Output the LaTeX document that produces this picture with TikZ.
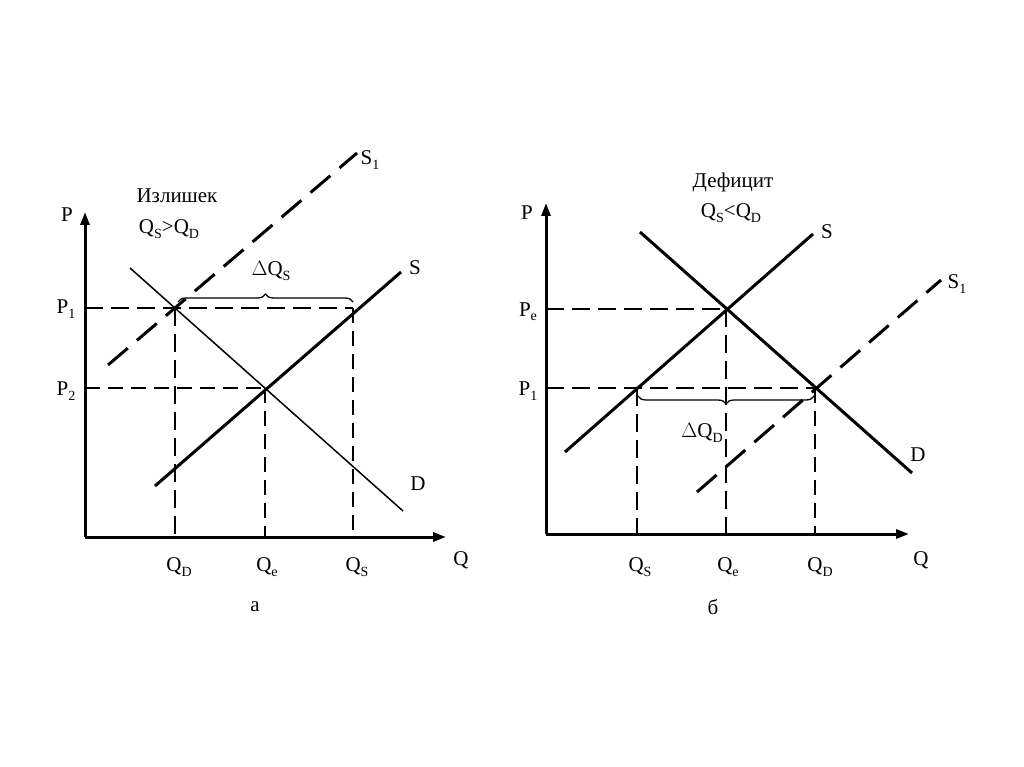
\documentclass[tikz,border=0pt]{standalone}
\usepackage{fontspec}
\setmainfont{Liberation Serif}
\usetikzlibrary{arrows.meta,decorations.pathreplacing}
\newcommand{\lowsub}[1]{\raisebox{-0.45ex}{\fontsize{14}{14}\selectfont #1}}
\begin{document}
\begin{tikzpicture}[x=1pt,y=-1pt,
  axis/.style={line width=3pt,-{Triangle[length=13pt,width=9pt]}},
  curvethick/.style={line width=3pt},
  curvethin/.style={line width=1.5pt},
  shiftline/.style={line width=3pt,dash pattern=on 26pt off 12pt},
  guidethick/.style={line width=2.8pt,dash pattern=on 18pt off 8pt},
  guidethin/.style={line width=1.8pt,dash pattern=on 15pt off 8pt},
  lbl/.style={font=\fontsize{21}{23}\selectfont,inner sep=0pt},
  bracestyle/.style={line width=1.3pt,decorate,decoration={brace,amplitude=8pt}}]
\useasboundingbox (0,0) rectangle (1024,767);
\fill[white] (0,0) rectangle (1024,767);
% ---------- left panel ----------
\coordinate (aO) at (85,537);
\coordinate (aYt) at (85,212);
\coordinate (aXt) at (446,537);
\coordinate (aP1) at (85,308);
\coordinate (aP2) at (85,388);
\coordinate (aA) at (175,308);
\coordinate (aE) at (265,388);
\coordinate (aB) at (353,308);
\coordinate (aQD) at (175,537);
\coordinate (aQe) at (265,537);
\coordinate (aQS) at (353,537);
\coordinate (aDs) at (130,268);
\coordinate (aDe) at (403,511);
\coordinate (aSs) at (155,486);
\coordinate (aSe) at (401,272);
\coordinate (aS1s) at (108,365);
\coordinate (aS1e) at (357,153);
\draw[guidethick] (aP1) -- (aB);
\draw[guidethin] (aP2) -- (aE);
\draw[guidethick] (aA) -- (aQD);
\draw[guidethin] (aE) -- (aQe);
\draw[guidethin] (aB) -- (aQS);
\draw[curvethin] (aDs) -- (aDe);
\draw[curvethick] (aSs) -- (aSe);
\draw[shiftline] (aS1s) -- (aS1e);
\draw[axis] (aO) -- (aYt);
\draw[axis] (aO) -- (aXt);
\coordinate (aBr1) at (178,302);
\coordinate (aBr2) at (353,302);
\draw[bracestyle] (aBr1) -- (aBr2);
\node[lbl] (aPl) at (67,215) {P};
\node[lbl] (aQl) at (461,560) {Q};
\node[lbl] (aP1l) at (66,309) {P\lowsub{1}};
\node[lbl] (aP2l) at (66,391) {P\lowsub{2}};
\node[lbl] (aQDl) at (179,567) {Q\lowsub{D}};
\node[lbl] (aQel) at (267,567) {Q\lowsub{e}};
\node[lbl] (aQSl) at (357,567) {Q\lowsub{S}};
\node[lbl] (aal) at (255,607) {а};
\node[lbl] (aSl) at (415,268) {S};
\node[lbl] (aS1l) at (370,160) {S\lowsub{1}};
\node[lbl] (aDl) at (418,484) {D};
\node[lbl] (aT1) at (177,196) {Излишек};
\node[lbl] (aT2) at (169,229) {Q\lowsub{S}>Q\lowsub{D}};
\node[lbl] (aDQ) at (271,271) {$\Delta$Q\lowsub{S}};
% ---------- right panel ----------
\coordinate (bO) at (546,534);
\coordinate (bYt) at (546,203);
\coordinate (bXt) at (909,534);
\coordinate (bPe) at (546,309);
\coordinate (bP1) at (546,388);
\coordinate (bE) at (726,309);
\coordinate (bA) at (637,388);
\coordinate (bB) at (815,388);
\coordinate (bQS) at (637,534);
\coordinate (bQe) at (726,534);
\coordinate (bQD) at (815,534);
\coordinate (bSs) at (565,452);
\coordinate (bSe) at (813,234);
\coordinate (bDs) at (640,232);
\coordinate (bDe) at (912,473);
\coordinate (bS1s) at (697,492);
\coordinate (bS1e) at (941,280);
\draw[guidethick] (bPe) -- (bE);
\draw[guidethick] (bP1) -- (bB);
\draw[guidethick] (bA) -- (bQS);
\draw[guidethick] (bE) -- (bQe);
\draw[guidethin] (bB) -- (bQD);
\draw[curvethick] (bSs) -- (bSe);
\draw[curvethick] (bDs) -- (bDe);
\draw[shiftline] (bS1s) -- (bS1e);
\draw[axis] (bO) -- (bYt);
\draw[axis] (bO) -- (bXt);
\coordinate (bBr1) at (638,396);
\coordinate (bBr2) at (814,396);
\draw[bracestyle,decoration={brace,mirror,amplitude=8pt}] (bBr1) -- (bBr2);
\node[lbl] (bPl) at (527,213) {P};
\node[lbl] (bQl) at (921,560) {Q};
\node[lbl] (bPel) at (528,312) {P\lowsub{e}};
\node[lbl] (bP1l) at (528,391) {P\lowsub{1}};
\node[lbl] (bQSl) at (640,567) {Q\lowsub{S}};
\node[lbl] (bQel) at (728,567) {Q\lowsub{e}};
\node[lbl] (bQDl) at (820,567) {Q\lowsub{D}};
\node[lbl] (bbl) at (713,607) {б};
\node[lbl] (bSl) at (827,232) {S};
\node[lbl] (bS1l) at (957,284) {S\lowsub{1}};
\node[lbl] (bDl) at (918,455) {D};
\node[lbl] (bT1) at (733,182) {Дефицит};
\node[lbl] (bT2) at (731,213) {Q\lowsub{S}<Q\lowsub{D}};
\node[lbl] (bDQ) at (702,433) {$\Delta$Q\lowsub{D}};
\end{tikzpicture}
\end{document}
